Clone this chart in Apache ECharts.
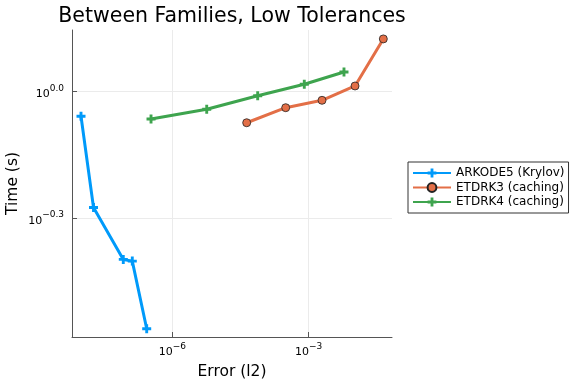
<!DOCTYPE html>
<html>
<head>
<meta charset="utf-8">
<script src="https://cdn.jsdelivr.net/npm/echarts@6/dist/echarts.min.js"></script>
<style>html,body{margin:0;padding:0;background:#fff}#c{width:576px;height:384px}</style>
</head>
<body>
<div id="c"></div>
<script>
// log10 of Error (l2) and log10 of Time (s)
const arkodeLogErr = [-8.008, -7.733, -7.078, -6.880, -6.563];
const arkodeLogTime = [-0.058, -0.274, -0.397, -0.401, -0.561];
const etdrk3LogErr = [-4.364, -3.506, -2.707, -1.981, -1.359];
const etdrk3LogTime = [-0.0735, -0.0379, -0.0204, 0.0135, 0.1249];
const etdrk4LogErr = [-6.468, -5.243, -4.122, -3.097, -2.224];
const etdrk4LogTime = [-0.0647, -0.0417, -0.0095, 0.0175, 0.0467];
const seriesNames = ['ARKODE5 (Krylov)', 'ETDRK3 (caching)', 'ETDRK4 (caching)'];
const xTicks = [-6, -3];
const yTicks = [-0.3, 0.0];

const FONT = 'DejaVu Sans';
const plus = 'path://M3.4,0H6.6V3.4H10V6.6H6.6V10H3.4V6.6H0V3.4H3.4Z';
const zip = (a, b) => a.map((v, i) => [v, b[i]]);
const expStr = (v, d) => {
  const s = Math.abs(v).toFixed(d);
  return (v < -1e-9 ? '\u2212' : '') + s;
};
const rich = {
  b: {fontFamily: FONT, fontSize: 11, color: '#000', lineHeight: 16, verticalAlign: 'bottom'},
  s: {fontFamily: FONT, fontSize: 9, color: '#000', lineHeight: 16, verticalAlign: 'top', padding: [0, 0, 6, 0]}
};

const chart = echarts.init(document.getElementById('c'), null, {renderer: 'canvas'});
chart.setOption({
  animation: false,
  backgroundColor: '#fff',
  title: {
    text: 'Between Families, Low Tolerances',
    left: 227, textAlign: 'center', top: 1,
    textStyle: {fontFamily: FONT, fontSize: 20.5, fontWeight: 'normal', color: '#000'}
  },
  grid: {left: 72, top: 30, right: 184, bottom: 47, containLabel: false, outerBoundsMode: 'none'},
  legend: {
    orient: 'vertical', left: 408, top: 162,
    padding: [5, 4, 5, 4],
    itemWidth: 38, itemHeight: 11, itemGap: 2.5,
    borderColor: '#333', borderWidth: 1, backgroundColor: '#fff',
    textStyle: {fontFamily: FONT, fontSize: 12, color: '#000', lineHeight: 11},
    data: seriesNames
  },
  xAxis: {
    type: 'value', min: -8.206, max: -1.168,
    name: 'Error (l2)', nameLocation: 'middle', nameGap: 27, nameMoveOverlap: false,
    nameTextStyle: {fontFamily: FONT, fontSize: 15.5, color: '#000'},
    axisLine: {show: true, onZero: false, lineStyle: {color: '#555', width: 1}},
    axisTick: {show: true, inside: true, length: 5, customValues: xTicks, lineStyle: {color: '#555'}},
    axisLabel: {customValues: xTicks, margin: 5, formatter: v => '{b|10}{s|' + expStr(v, 0) + '}', rich: rich},
    splitLine: {show: true, lineStyle: {color: '#ebebeb', width: 1}}
  },
  yAxis: {
    type: 'value', min: -0.5806, max: 0.146,
    name: 'Time (s)', nameLocation: 'middle', nameGap: 51, nameMoveOverlap: false,
    nameTextStyle: {fontFamily: FONT, fontSize: 15.5, color: '#000'},
    axisLine: {show: true, onZero: false, lineStyle: {color: '#555', width: 1}},
    axisTick: {show: true, inside: true, length: 5, customValues: yTicks, lineStyle: {color: '#555'}},
    axisLabel: {customValues: yTicks, margin: 8, formatter: v => '{b|10}{s|' + expStr(v, 1) + '}', rich: rich},
    splitLine: {show: true, lineStyle: {color: '#ebebeb', width: 1}}
  },
  series: [
    {
      name: seriesNames[0], type: 'line', data: zip(arkodeLogErr, arkodeLogTime),
      symbol: plus, symbolSize: 9, showAllSymbol: true,
      lineStyle: {color: '#009AFA', width: 3}, itemStyle: {color: '#009AFA', borderWidth: 0}
    },
    {
      name: seriesNames[1], type: 'line', data: zip(etdrk3LogErr, etdrk3LogTime),
      symbol: 'circle', symbolSize: 8,
      lineStyle: {color: '#E36F47', width: 3}, itemStyle: {color: '#E36F47', borderColor: '#222', borderWidth: 0.8}
    },
    {
      name: seriesNames[2], type: 'line', data: zip(etdrk4LogErr, etdrk4LogTime),
      symbol: plus, symbolSize: 9,
      lineStyle: {color: '#3EA44E', width: 3}, itemStyle: {color: '#3EA44E', borderWidth: 0}
    }
  ]
});
</script>
</body>
</html>
